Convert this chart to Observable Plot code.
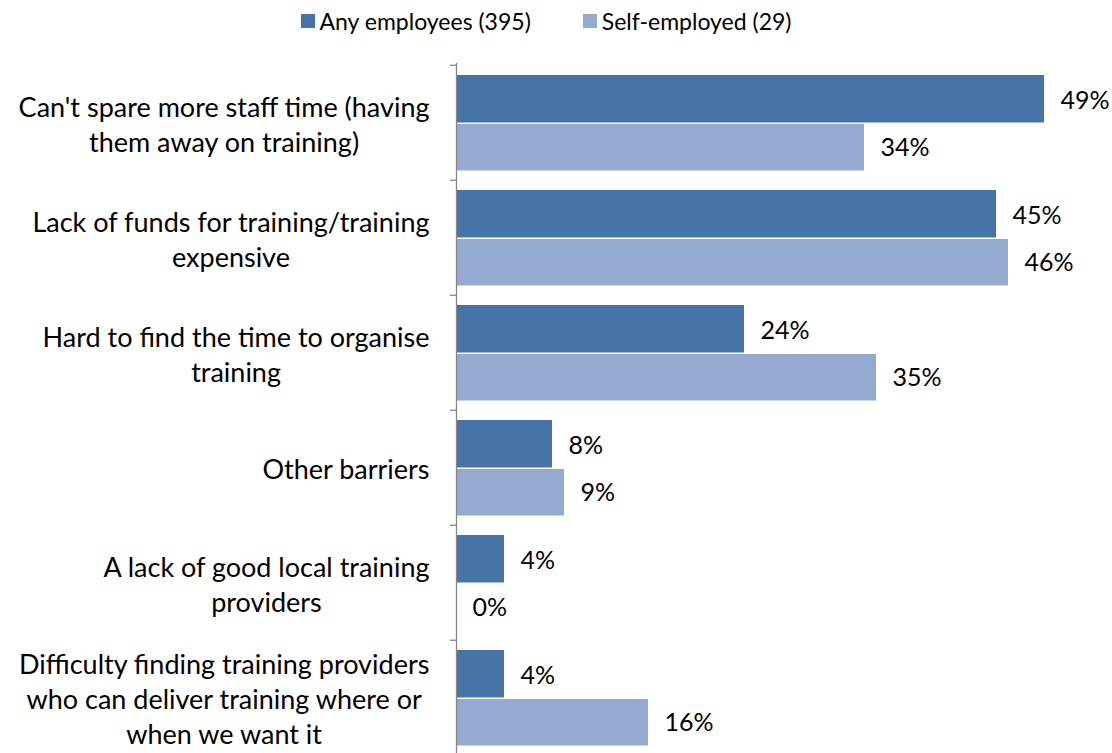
<!DOCTYPE html>
<html><head><meta charset="utf-8">
<script src="https://cdn.jsdelivr.net/npm/d3@7"></script>
<script src="https://cdn.jsdelivr.net/npm/@observablehq/plot@0.6"></script>
<style>
body{margin:0;background:#fff;overflow:hidden;font-family:Lato,sans-serif}
#wrap{position:relative;width:1112px;height:753px;overflow:hidden}
#legend{position:absolute;top:7px;left:0;width:1092px;display:flex;justify-content:center;align-items:center;font-size:23px;color:#000;z-index:2}
.item{display:flex;align-items:center;margin:0 26px}
.sw{width:14px;height:14px;margin-right:5px}
#chart{position:absolute;top:0;left:0}
</style></head><body>
<div id="wrap"><div id="legend"></div><div id="chart"></div></div>
<script>
const categories = [
  "Can't spare more staff time (having\nthem away on training)",
  "Lack of funds for training/training\nexpensive",
  "Hard to find the time to organise\ntraining",
  "Other barriers",
  "A lack of good local training\nproviders",
  "Difficulty finding training providers\nwho can deliver training where or\nwhen we want it"
];
const seriesNames = ["Any employees (395)", "Self-employed (29)"];
const anyEmployees = [49, 45, 24, 8, 4, 4];
const selfEmployed = [34, 46, 35, 9, 0, 16];
const colors = ["#4673a8", "#95aad1"];

const rowsAny = categories.map((c, i) => ({category: c, series: seriesNames[0], value: anyEmployees[i]}));
const rowsSelf = categories.map((c, i) => ({category: c, series: seriesNames[1], value: selfEmployed[i]}));

// legend
const legend = document.getElementById("legend");
seriesNames.forEach((s, i) => {
  const it = document.createElement("div"); it.className = "item";
  const sw = document.createElement("div"); sw.className = "sw"; sw.style.background = colors[i];
  const tx = document.createElement("span"); tx.textContent = s;
  it.append(sw, tx); legend.append(it);
});

const H = 756, MT = 63;
const band = (H - MT) / categories.length;

const chart = Plot.plot({
  width: 1112,
  height: H,
  marginTop: MT,
  marginBottom: 0,
  marginLeft: 456,
  marginRight: 56,
  style: {fontFamily: "Lato, sans-serif", fontSize: "27px", color: "#000", background: "#fff"},
  x: {domain: [0, 50], axis: null},
  y: {domain: categories, padding: 0, label: null},
  marks: [
    Plot.barX(rowsAny, {y: "category", x: "value", fill: colors[0], insetTop: 10, insetBottom: band - 58}),
    Plot.barX(rowsSelf, {y: "category", x: "value", fill: colors[1], insetTop: 59, insetBottom: band - 106}),
    Plot.text(rowsAny, {y: "category", x: "value", text: d => d.value + "%", dx: 16, dy: -22, textAnchor: "start", fontSize: 25, fill: "#000"}),
    Plot.text(rowsSelf, {y: "category", x: "value", text: d => d.value + "%", dx: 16, dy: 25, textAnchor: "start", fontSize: 25, fill: "#000"}),
    Plot.ruleY(categories, {y: d => d, x1: -0.5, x2: 0, dy: -band / 2, stroke: "#868686", strokeWidth: 1.3}),
    Plot.ruleX([0], {stroke: "#868686", strokeWidth: 1.3}),
    Plot.axisY({tickSize: 0, tickPadding: 27, fontSize: 27, lineHeight: 1.3, label: null})
  ]
});
document.getElementById("chart").append(chart);
chart.querySelectorAll('g[aria-label="y-axis tick label"] text').forEach(t => {
  const w = t.getBBox().width;
  t.setAttribute("text-anchor", "middle");
  t.setAttribute("transform", (t.getAttribute("transform") || "") + ` translate(${-w / 2},0)`);
});
</script>
</body></html>
